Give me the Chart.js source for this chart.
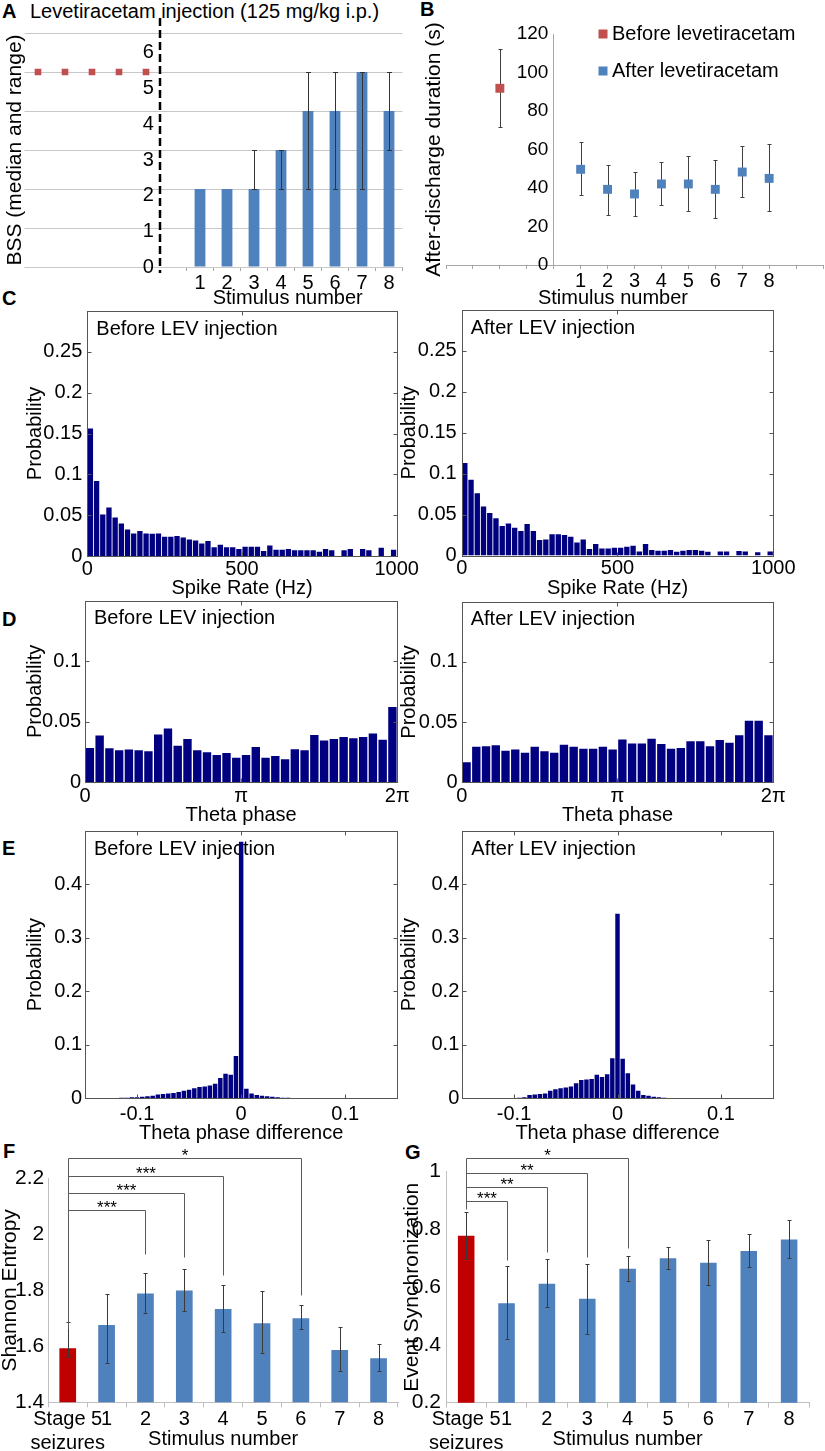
<!DOCTYPE html>
<html>
<head>
<meta charset="utf-8">
<title>Levetiracetam figure</title>
<script src="https://cdn.jsdelivr.net/npm/chart.js@4.4.1/dist/chart.umd.min.js"></script>
<style>
  html, body { margin:0; padding:0; background:#fff; }
  body { position:relative; width:825px; height:1451px; overflow:hidden; font-family:"Liberation Sans", Arial, sans-serif; }
  canvas { position:absolute; }
  .txt { position:absolute; white-space:nowrap; line-height:1; color:#000; font-family:"Liberation Sans", Arial, sans-serif; }
  .pl { font-weight:bold; font-size:20px; }
</style>
</head>
<body>
<div class="txt pl" style="left:2px;top:1px;">A</div>
<div class="txt" style="left:30px;top:1px;font-size:20px;">Levetiracetam injection (125 mg/kg i.p.)</div>
<div class="txt pl" style="left:420px;top:-1px;">B</div>
<div class="txt pl" style="left:2px;top:288px;">C</div>
<div class="txt pl" style="left:2px;top:609px;">D</div>
<div class="txt pl" style="left:2px;top:838px;">E</div>
<div class="txt pl" style="left:3px;top:1141px;">F</div>
<div class="txt pl" style="left:405px;top:1142px;">G</div>
<script>
// ---------------- DATA ----------------
// Panel A: behavioural seizure stage (median and range)
const aSlots = ['', '', '', '', '', '', '1', '2', '3', '4', '5', '6', '7', '8'];
const aBefore = [5, 5, 5, 5, 5];
const aMedian = [2, 2, 2, 3, 4, 4, 5, 4];
const aRangeLow = [2, 2, 2, 2, 2, 2, 2, 3];
const aRangeHigh = [2, 2, 3, 3, 5, 5, 5, 5];
const aYTicks = [0, 1, 2, 3, 4, 5, 6];

// Panel B: after-discharge duration
const bBeforeX = [-2];
const bBeforeMean = [91.8];
const bBeforeLow = [71.5];
const bBeforeHigh = [112.2];
const bStim = [1, 2, 3, 4, 5, 6, 7, 8];
const bAfterMean = [49.7, 39.3, 36.9, 42.1, 42.1, 39.3, 48.3, 45.0];
const bAfterLow = [36.5, 25.8, 25.3, 31.2, 28.1, 24.4, 35.2, 28.2];
const bAfterHigh = [64.1, 52.1, 48.1, 53.3, 56.8, 54.4, 62.0, 62.7];
const bXTicks = [-4, -3, -2, -1, 0, 1, 2, 3, 4, 5, 6, 7, 8, 9, 10];
const bYTicks = [0, 20, 40, 60, 80, 100, 120];

// Panel C: spike rate histograms
const cBins = [10, 30, 50, 70, 90, 110, 130, 150, 170, 190, 210, 230, 250, 270, 290, 310, 330, 350, 370, 390,
  410, 430, 450, 470, 490, 510, 530, 550, 570, 590, 610, 630, 650, 670, 690, 710, 730, 750, 770, 790,
  810, 830, 850, 870, 890, 910, 930, 950, 970, 990];
const cBefore = [0.156, 0.0919, 0.0508, 0.0593, 0.0472, 0.0398, 0.0325, 0.0276, 0.0305, 0.0276,
  0.0272, 0.0276, 0.0236, 0.0236, 0.0244, 0.0228, 0.0203, 0.0191, 0.0154, 0.0183,
  0.0106, 0.0138, 0.0106, 0.0106, 0.0085, 0.0114, 0.0114, 0.0114, 0.0061, 0.013,
  0.0077, 0.0077, 0.0085, 0.0069, 0.0069, 0.0069, 0.0069, 0.0053, 0.0085, 0.0069,
  0, 0.0069, 0.0085, 0, 0.0085, 0.0069, 0, 0.0102, 0, 0.0077];
const cAfter = [0.113, 0.0926, 0.076, 0.060, 0.052, 0.0455, 0.036, 0.039, 0.034, 0.030,
  0.0385, 0.030, 0.019, 0.0195, 0.026, 0.026, 0.025, 0.023, 0.016, 0.0197,
  0.0078, 0.014, 0.0086, 0.0086, 0.0094, 0.0094, 0.0107, 0.012, 0.005, 0.014,
  0.0066, 0.0057, 0.0057, 0.0066, 0.0045, 0.0057, 0.0066, 0.0066, 0.0057, 0.0045,
  0, 0.005, 0.005, 0, 0.0055, 0.005, 0, 0.004, 0, 0.005];
const cXTicks = [0, 500, 1000];
const cXTickLabels = ['0', '500', '1000'];
const cYTicks = [0, 0.05, 0.1, 0.15, 0.2, 0.25];
const cYTickLabels = ['0', '0.05', '0.1', '0.15', '0.2', '0.25'];

// Panel D: theta phase histograms
const dBins = [0.0982, 0.2945, 0.4909, 0.6872, 0.8836, 1.0799, 1.2763, 1.4726, 1.6690, 1.8653,
  2.0617, 2.2580, 2.4544, 2.6507, 2.8471, 3.0434, 3.2398, 3.4361, 3.6325, 3.8288,
  4.0252, 4.2215, 4.4179, 4.6142, 4.8106, 5.0069, 5.2033, 5.3996, 5.5960, 5.7923,
  5.9887, 6.1850];
const dBefore = [0.0281, 0.0385, 0.0279, 0.0262, 0.0268, 0.0262, 0.0254, 0.0393, 0.0443, 0.030,
  0.0355, 0.0262, 0.0246, 0.0224, 0.024, 0.020, 0.0224, 0.029, 0.020, 0.0216,
  0.0189, 0.027, 0.0262, 0.0388, 0.0344, 0.0355, 0.0372, 0.0361, 0.0372, 0.0402,
  0.035, 0.062];
const dAfter = [0.0166, 0.0296, 0.030, 0.0307, 0.0262, 0.0273, 0.0246, 0.0296, 0.0257, 0.0246,
  0.0312, 0.0296, 0.0279, 0.0279, 0.0296, 0.0273, 0.0356, 0.0323, 0.0323, 0.0362,
  0.0318, 0.0279, 0.0285, 0.034, 0.034, 0.030, 0.0351, 0.0329, 0.039, 0.0511,
  0.0511, 0.039];
const dXTicks = [0, Math.PI, 2 * Math.PI];
const dXTickLabels = ['0', 'π', '2π'];
const dYTicks = [0, 0.05, 0.1];
const dYTickLabels = ['0', '0.05', '0.1'];

// Panel E: theta phase difference histograms
const eBins = [-0.115, -0.11, -0.105, -0.1, -0.095, -0.09, -0.085, -0.08, -0.075, -0.07, -0.065,
  -0.06, -0.055, -0.05, -0.045, -0.04, -0.035, -0.03, -0.025, -0.02, -0.015, -0.01, -0.005,
  0, 0.005, 0.01, 0.015, 0.02, 0.025, 0.03, 0.035, 0.04, 0.045];
const eBefore = [0.001, 0.001, 0.002, 0.002, 0.003, 0.004, 0.005, 0.007, 0.008, 0.009, 0.010,
  0.012, 0.014, 0.016, 0.019, 0.021, 0.022, 0.024, 0.027, 0.038, 0.046, 0.044, 0.079,
  0.480, 0.018, 0.009, 0.006, 0.005, 0.004, 0.003, 0.002, 0.001, 0.001];
const eAfter = [0, 0, 0, 0, 0.001, 0.002, 0.006, 0.007, 0.008, 0.009, 0.014,
  0.017, 0.019, 0.020, 0.022, 0.028, 0.034, 0.035, 0.036, 0.044, 0.040, 0.045, 0.075,
  0.345, 0.074, 0.047, 0.026, 0.014, 0.006, 0.005, 0.003, 0.002, 0.001];
const eXTicks = [-0.1, 0, 0.1];
const eXTickLabels = ['-0.1', '0', '0.1'];
const eYTicks = [0, 0.1, 0.2, 0.3, 0.4];
const eYTickLabels = ['0', '0.1', '0.2', '0.3', '0.4'];

// Panel F: Shannon entropy
const fgCategories = [['Stage 5', 'seizures'], '1', '2', '3', '4', '5', '6', '7', '8'];
const fMean = [1.593, 1.676, 1.789, 1.799, 1.733, 1.682, 1.700, 1.587, 1.557];
const fLow = [1.561, 1.539, 1.718, 1.727, 1.652, 1.575, 1.660, 1.510, 1.513];
const fHigh = [1.688, 1.786, 1.863, 1.875, 1.819, 1.798, 1.746, 1.669, 1.607];
const fYTicks = [1.4, 1.6, 1.8, 2.0, 2.2];
const fYTickLabels = ['1.4', '1.6', '1.8', '2', '2.2'];
const fSigTargets = [2, 3, 4, 6];
const fSigLevels = [2.086, 2.146, 2.208, 2.274];
const fSigEnds = [1.93, 1.92, 1.855, 1.783];
const fSigStars = ['***', '***', '***', '*'];
const fSigBaseEnd = 1.66;

// Panel G: event synchronization
const gMean = [0.778, 0.544, 0.612, 0.560, 0.664, 0.700, 0.685, 0.725, 0.765];
const gLow = [0.697, 0.419, 0.532, 0.438, 0.622, 0.664, 0.609, 0.669, 0.702];
const gHigh = [0.859, 0.672, 0.696, 0.682, 0.709, 0.740, 0.764, 0.785, 0.831];
const gYTicks = [0.2, 0.4, 0.6, 0.8, 1.0];
const gYTickLabels = ['0.2', '0.4', '0.6', '0.8', '1'];
const gSigTargets = [1, 2, 3, 4];
const gSigLevels = [0.897, 0.946, 0.994, 1.048];
const gSigEnds = [0.694, 0.722, 0.705, 0.737];
const gSigStars = ['***', '**', '**', '*'];
const gSigBaseEnd = 0.87;

// ---------------- SETUP ----------------
const FONT = '"Liberation Sans", Arial, sans-serif';
Chart.defaults.font.family = FONT;
Chart.defaults.color = '#000';
Chart.defaults.animation = false;
Chart.defaults.responsive = false;
Chart.defaults.maintainAspectRatio = false;
Chart.defaults.plugins.legend.display = false;
Chart.defaults.plugins.tooltip.enabled = false;

const BLUE = '#4f81bd', RED_SQ = '#c0504d', RED_BAR = '#c00000', NAVY = '#000080';

function mount(box) {
  const c = document.createElement('canvas');
  c.width = box.w; c.height = box.h;
  c.style.left = box.l + 'px'; c.style.top = box.t + 'px';
  c.style.width = box.w + 'px'; c.style.height = box.h + 'px';
  document.body.appendChild(c);
  return c;
}
function pad(box, area) { return { left: 0, top: area.t - box.t, right: box.l + box.w - area.r, bottom: 0 }; }
const fixW = w => s => { s.width = w; s.paddingTop = 0; s.paddingBottom = 0; };
const fixH = h => s => { s.height = h; s.paddingLeft = 0; s.paddingRight = 0; };
const zeroPad = s => { s.paddingTop = 0; s.paddingBottom = 0; s.paddingLeft = 0; s.paddingRight = 0; };
const setTicks = list => s => { s.ticks = list.map(v => ({ value: v })); };
// a trailing space keeps right-aligned labels clear of an axis placed inside the plot
const gapLabel = v => String(v) + ' ';

// ---------------- PLUGINS ----------------
function drawErr(chart, behind) {
  const ctx = chart.ctx;
  chart.data.datasets.forEach((ds, di) => {
    if (!ds.errLow || !!ds.errBehind !== behind) return;
    const meta = chart.getDatasetMeta(di);
    const ys = chart.scales[meta.yAxisID];
    ctx.save();
    ctx.strokeStyle = ds.errColor || '#404040';
    ctx.lineWidth = 1;
    ctx.beginPath();
    meta.data.forEach((el, j) => {
      const lo = ds.errLow[j], hi = ds.errHigh[j];
      if (lo == null || hi == null || lo === hi) return;
      const x = Math.round(el.x) + 0.5;
      const y1 = Math.round(ys.getPixelForValue(lo)) + 0.5;
      const y2 = Math.round(ys.getPixelForValue(hi)) + 0.5;
      const c = ds.errCap || 2.5;
      ctx.moveTo(x, y1); ctx.lineTo(x, y2);
      ctx.moveTo(x - c, y1); ctx.lineTo(x + c, y1);
      ctx.moveTo(x - c, y2); ctx.lineTo(x + c, y2);
    });
    ctx.stroke();
    ctx.restore();
  });
}
const errorBars = { id: 'errorBars', beforeDatasetsDraw: c => drawErr(c, true), afterDatasetsDraw: c => drawErr(c, false) };

const sepLinePlugin = {
  id: 'sepLine',
  afterDatasetsDraw(chart, args, o) {
    const x = Math.round(chart.scales.x.getPixelForValue(o.at));
    const a = chart.chartArea, ctx = chart.ctx;
    ctx.save();
    ctx.strokeStyle = '#000'; ctx.lineWidth = 2.5; ctx.setLineDash([8, 4]);
    ctx.beginPath(); ctx.moveTo(x, a.top - o.above); ctx.lineTo(x, a.bottom + o.below); ctx.stroke();
    ctx.restore();
  }
};

const captionPlugin = {
  id: 'caption',
  afterDraw(chart, args, o) {
    if (!o.text) return;
    const ctx = chart.ctx;
    ctx.save();
    ctx.font = '20px ' + FONT; ctx.fillStyle = '#000'; ctx.textAlign = 'center'; ctx.textBaseline = 'middle';
    ctx.fillText(o.text, chart.scales.x.getPixelForValue(o.at), chart.chartArea.bottom + o.dy);
    ctx.restore();
  }
};

const insetLegend = {
  id: 'insetLegend',
  afterDraw(chart, args, o) {
    const ctx = chart.ctx, a = chart.chartArea;
    ctx.save();
    ctx.font = '20px ' + FONT; ctx.textBaseline = 'middle'; ctx.textAlign = 'left';
    chart.data.datasets.forEach((ds, i) => {
      const cy = a.top + o.firstRow + i * o.rowGap;
      ctx.fillStyle = ds.backgroundColor;
      ctx.fillRect(a.left + o.markerX - 4.5, cy - 4.5, 9, 9);
      ctx.fillStyle = '#000';
      ctx.fillText(ds.label, a.left + o.textX, cy);
    });
    ctx.restore();
  }
};

const matlabBox = {
  id: 'mbox',
  beforeDatasetsDraw(chart, args, o) {
    const ctx = chart.ctx, a = chart.chartArea;
    ctx.save();
    ctx.font = '20px ' + FONT; ctx.fillStyle = '#000'; ctx.textBaseline = 'middle'; ctx.textAlign = 'left';
    ctx.fillText(o.inset, a.left + 9, a.top + 18);
    ctx.restore();
  },
  afterDraw(chart) {
    const ctx = chart.ctx, a = chart.chartArea, xs = chart.scales.x, ys = chart.scales.y;
    const L = Math.round(a.left) + 0.5, R = Math.round(a.right) + 0.5, T = Math.round(a.top) + 0.5, B = Math.round(a.bottom) + 0.5;
    ctx.save();
    ctx.strokeStyle = '#555'; ctx.lineWidth = 1;
    ctx.strokeRect(L, T, R - L, B - T);
    const tl = 4;
    ctx.beginPath();
    ys.ticks.forEach(t => {
      const y = Math.round(ys.getPixelForValue(t.value)) + 0.5;
      ctx.moveTo(L, y); ctx.lineTo(L + tl, y); ctx.moveTo(R, y); ctx.lineTo(R - tl, y);
    });
    xs.ticks.forEach(t => {
      const x = Math.round(xs.getPixelForValue(t.value)) + 0.5;
      ctx.moveTo(x, B); ctx.lineTo(x, B - tl); ctx.moveTo(x, T); ctx.lineTo(x, T + tl);
    });
    ctx.stroke();
    ctx.restore();
  }
};

const sigPlugin = {
  id: 'sig',
  afterDatasetsDraw(chart, args, o) {
    if (!o.targets) return;
    const ctx = chart.ctx, xs = chart.scales.x, ys = chart.scales.y;
    const px = v => Math.round(xs.getPixelForValue(v)) + 0.5;
    const py = v => Math.round(ys.getPixelForValue(v)) + 0.5;
    const x0 = px(o.from);
    ctx.save();
    ctx.strokeStyle = '#5a5a5a'; ctx.lineWidth = 1;
    ctx.beginPath();
    ctx.moveTo(x0, py(Math.max(...o.levels))); ctx.lineTo(x0, py(o.fromEnd));
    o.targets.forEach((t, i) => {
      const y = py(o.levels[i]), x1 = px(t);
      ctx.moveTo(x0, y); ctx.lineTo(x1, y); ctx.lineTo(x1, py(o.ends[i]));
    });
    ctx.stroke();
    ctx.fillStyle = '#000'; ctx.font = '17px ' + FONT; ctx.textAlign = 'center'; ctx.textBaseline = 'alphabetic';
    o.targets.forEach((t, i) => ctx.fillText(o.stars[i], (x0 + px(t)) / 2, py(o.levels[i]) + 2));
    ctx.restore();
  }
};

// ---------------- PANEL A ----------------
(function () {
  const box = { l: 0, t: 0, w: 412, h: 312 };
  const area = { l: 24.5, t: 33, r: 402.5, b: 267 };
  const nGap = aSlots.length - aMedian.length;
  const sep = aBefore.length - 0.5;
  const labelAxisMax = 6.56; // the printed tick numbers sit on a slightly compressed scale in the original
  const beforeData = aSlots.map((_, i) => i < aBefore.length ? aBefore[i] : null);
  const afterData = aSlots.map((_, i) => i >= nGap ? aMedian[i - nGap] : null);
  const lowData = aSlots.map((_, i) => i >= nGap ? aRangeLow[i - nGap] : null);
  const highData = aSlots.map((_, i) => i >= nGap ? aRangeHigh[i - nGap] : null);
  new Chart(mount(box), {
    type: 'bar',
    data: {
      labels: aSlots,
      datasets: [
        { type: 'bar', label: 'After levetiracetam', data: afterData, yAxisID: 'y', xAxisID: 'x',
          backgroundColor: BLUE, barPercentage: 0.4, categoryPercentage: 1,
          errLow: lowData, errHigh: highData, errColor: '#333', errCap: 2.5 },
        { type: 'line', label: 'Before levetiracetam', data: beforeData, yAxisID: 'y', xAxisID: 'x',
          showLine: false, pointStyle: 'rect', pointRadius: 4.7, pointBackgroundColor: RED_SQ,
          pointBorderColor: RED_SQ, pointBorderWidth: 0, backgroundColor: RED_SQ, borderColor: RED_SQ }
      ]
    },
    options: {
      layout: { autoPadding: false, padding: pad(box, area) },
      scales: {
        x: {
          grid: { display: true, drawOnChartArea: false, drawTicks: true, tickLength: 4, offset: true,
            color: c => (c.index === undefined || c.index >= nGap) ? '#a6a6a6' : 'rgba(0,0,0,0)' },
          border: { display: false },
          ticks: { autoSkip: false, maxRotation: 0, padding: 0, font: { size: 20 }, color: '#000' },
          afterFit: fixH(box.t + box.h - area.b)
        },
        y: {
          position: { x: sep }, min: 0, max: 6,
          afterBuildTicks: setTicks(aYTicks),
          grid: { color: '#c8c8c8', drawTicks: false },
          border: { display: false },
          ticks: { display: false },
          afterFit: zeroPad
        },
        yl: {
          type: 'linear', position: { x: sep }, min: 0, max: labelAxisMax,
          afterBuildTicks: setTicks(aYTicks),
          grid: { display: false, drawTicks: false },
          border: { display: false },
          ticks: { font: { size: 20 }, color: '#000', callback: gapLabel },
          afterFit: zeroPad
        },
        yt: {
          type: 'linear', position: 'left',
          grid: { display: false }, border: { display: false }, ticks: { display: false },
          title: { display: true, text: 'BSS (median and range)', font: { size: 21 }, color: '#000', padding: { top: 3, bottom: 0 } },
          afterFit: fixW(area.l - box.l)
        }
      },
      plugins: {
        sepLine: { at: sep, above: 15, below: 6 },
        caption: { text: 'Stimulus number', at: 9.25, dy: 31 }
      }
    },
    plugins: [errorBars, sepLinePlugin, captionPlugin]
  });
})();

// ---------------- PANEL B ----------------
(function () {
  const box = { l: 412, t: 0, w: 413, h: 312 };
  const area = { l: 446, t: 34, r: 823, b: 265 };
  new Chart(mount(box), {
    type: 'scatter',
    data: {
      datasets: [
        { label: 'Before levetiracetam', data: bBeforeX.map((x, i) => ({ x: x, y: bBeforeMean[i] })),
          yAxisID: 'y', xAxisID: 'x', errLow: bBeforeLow, errHigh: bBeforeHigh, errBehind: true, errCap: 2,
          pointStyle: 'rect', pointRadius: 6.3, backgroundColor: RED_SQ, borderColor: RED_SQ, borderWidth: 0 },
        { label: 'After levetiracetam', data: bStim.map((x, i) => ({ x: x, y: bAfterMean[i] })),
          yAxisID: 'y', xAxisID: 'x', errLow: bAfterLow, errHigh: bAfterHigh, errBehind: true, errCap: 2,
          pointStyle: 'rect', pointRadius: 6.3, backgroundColor: BLUE, borderColor: BLUE, borderWidth: 0 }
      ]
    },
    options: {
      layout: { autoPadding: false, padding: pad(box, area) },
      scales: {
        x: {
          type: 'linear', min: bXTicks[0], max: bXTicks[bXTicks.length - 1],
          afterBuildTicks: setTicks(bXTicks),
          grid: { display: true, drawOnChartArea: false, drawTicks: true, tickLength: 4, color: '#a6a6a6' },
          border: { display: true, color: '#a6a6a6' },
          ticks: { autoSkip: false, maxRotation: 0, padding: 0, font: { size: 20 }, color: '#000',
            callback: v => bStim.includes(v) ? String(v) : '' },
          afterFit: fixH(box.t + box.h - area.b)
        },
        y: {
          position: { x: 0 }, min: 0, max: 120,
          afterBuildTicks: setTicks(bYTicks),
          grid: { display: false, drawTicks: false },
          border: { display: true, color: '#a6a6a6' },
          ticks: { font: { size: 19 }, color: '#000', callback: gapLabel },
          afterFit: zeroPad
        },
        yt: {
          type: 'linear', position: 'left',
          grid: { display: false }, border: { display: false }, ticks: { display: false },
          title: { display: true, text: 'After-discharge duration (s)', font: { size: 21 }, color: '#000', padding: { top: 10, bottom: 0 } },
          afterFit: fixW(area.l - box.l)
        }
      },
      plugins: {
        caption: { text: 'Stimulus number', at: 2.2, dy: 33 },
        insetLegend: { firstRow: 0, rowGap: 37, markerX: 157, textX: 166 }
      }
    },
    plugins: [errorBars, captionPlugin, insetLegend]
  });
})();

// ---------------- MATLAB-style histograms (C, D, E) ----------------
function histChart(box, area, spec) {
  const pts = spec.bins.map((b, i) => ({ x: b, y: spec.values[i] }));
  return new Chart(mount(box), {
    type: 'bar',
    data: { datasets: [{ data: pts, backgroundColor: NAVY, borderWidth: 0, categoryPercentage: 0.86, barPercentage: 1 }] },
    options: {
      layout: { autoPadding: false, padding: pad(box, area) },
      scales: {
        x: {
          type: 'linear', min: spec.xMin, max: spec.xMax, offset: false,
          grid: { display: false, drawTicks: false, offset: false }, border: { display: false },
          afterBuildTicks: setTicks(spec.xTicks),
          ticks: { autoSkip: false, maxRotation: 0, padding: spec.xPad, font: { size: 20 }, color: '#000',
            callback: (v, i) => spec.xTickLabels[i] },
          title: { display: true, text: spec.xTitle, font: { size: 20 }, color: '#000', padding: 0 },
          afterFit: fixH(box.t + box.h - area.b)
        },
        y: {
          min: 0, max: spec.yMax,
          grid: { display: false, drawTicks: false }, border: { display: false },
          afterBuildTicks: setTicks(spec.yTicks),
          ticks: { padding: spec.yPad, font: { size: 20 }, color: '#000', callback: (v, i) => spec.yTickLabels[i] },
          title: { display: true, text: 'Probability', font: { size: 20 }, color: '#000', padding: { top: spec.yTitlePad, bottom: 0 } },
          afterFit: fixW(area.l - box.l)
        }
      },
      plugins: { mbox: { inset: spec.inset } }
    },
    plugins: [matlabBox]
  });
}

const cCommon = { bins: cBins, xMin: 0, xMax: 1000, xTicks: cXTicks, xTickLabels: cXTickLabels, xPad: 1,
  xTitle: 'Spike Rate (Hz)', yMax: 0.3, yTicks: cYTicks, yTickLabels: cYTickLabels, yPad: 5 };
histChart({ l: 0, t: 300, w: 425, h: 300 }, { l: 87.3, t: 311, r: 396.7, b: 556 },
  Object.assign({}, cCommon, { values: cBefore, inset: 'Before LEV injection', yTitlePad: 23 }));
histChart({ l: 395, t: 300, w: 430, h: 300 }, { l: 461.7, t: 310, r: 773.3, b: 555.5 },
  Object.assign({}, cCommon, { values: cAfter, inset: 'After LEV injection', yTitlePad: 2 }));

const dCommon = { bins: dBins, xMin: 0, xMax: 2 * Math.PI, xTicks: dXTicks, xTickLabels: dXTickLabels, xPad: 2,
  xTitle: 'Theta phase', yMax: 0.15, yTicks: dYTicks, yTickLabels: dYTickLabels, yPad: 4 };
histChart({ l: 0, t: 590, w: 425, h: 237 }, { l: 85, t: 600.7, r: 397.3, b: 782 },
  Object.assign({}, dCommon, { values: dBefore, inset: 'Before LEV injection', yTitlePad: 23 }));
histChart({ l: 395, t: 590, w: 430, h: 237 }, { l: 461.7, t: 601.7, r: 773.3, b: 782.3 },
  Object.assign({}, dCommon, { values: dAfter, inset: 'After LEV injection', yTitlePad: 2 }));

const eCommon = { bins: eBins, xMin: -0.15, xMax: 0.15, xTicks: eXTicks, xTickLabels: eXTickLabels, xPad: 4,
  xTitle: 'Theta phase difference', yMax: 0.5, yTicks: eYTicks, yTickLabels: eYTickLabels, yPad: 3 };
histChart({ l: 0, t: 822, w: 425, h: 323 }, { l: 85, t: 831, r: 397.3, b: 1098.3 },
  Object.assign({}, eCommon, { values: eBefore, inset: 'Before LEV injection', yTitlePad: 23 }));
histChart({ l: 395, t: 822, w: 430, h: 323 }, { l: 462.3, t: 831, r: 772.7, b: 1098.3 },
  Object.assign({}, eCommon, { values: eAfter, inset: 'After LEV injection', yTitlePad: 2 }));

// ---------------- Excel-style bar charts (F, G) ----------------
function excelBar(box, area, spec) {
  return new Chart(mount(box), {
    type: 'bar',
    data: {
      labels: fgCategories,
      datasets: [{
        data: spec.mean, backgroundColor: spec.mean.map((_, i) => i === 0 ? RED_BAR : BLUE),
        borderWidth: 0, barPercentage: spec.barPct, categoryPercentage: 1,
        errLow: spec.low, errHigh: spec.high, errColor: '#3a3a3a', errCap: 2
      }]
    },
    options: {
      layout: { autoPadding: false, padding: pad(box, area) },
      scales: {
        x: {
          grid: { display: true, drawOnChartArea: false, drawTicks: true, tickLength: 5, color: '#bfbfbf', offset: true },
          border: { display: true, color: '#bfbfbf' },
          ticks: { autoSkip: false, maxRotation: 0, padding: 0, font: { size: 20 }, color: '#000' },
          title: { display: true, text: 'Stimulus number', font: { size: 20 }, color: '#000', padding: 0 },
          afterFit: fixH(box.t + box.h - area.b)
        },
        y: {
          min: spec.yTicks[0], max: spec.yTicks[spec.yTicks.length - 1],
          afterBuildTicks: setTicks(spec.yTicks),
          grid: { display: false, drawTicks: false },
          border: { display: true, color: '#bfbfbf' },
          ticks: { font: { size: 21 }, color: '#000', padding: spec.yPad, callback: (v, i) => spec.yTickLabels[i] },
          title: { display: true, text: spec.yTitle, font: { size: 21 }, color: '#000', padding: { top: spec.yTitlePad, bottom: 0 } },
          afterFit: fixW(area.l - box.l)
        }
      },
      plugins: { sig: spec.sig }
    },
    plugins: [errorBars, sigPlugin]
  });
}

excelBar({ l: 0, t: 1140, w: 405, h: 311 }, { l: 48.3, t: 1178.3, r: 398, b: 1402.3 }, {
  mean: fMean, low: fLow, high: fHigh, barPct: 0.43, yTicks: fYTicks, yTickLabels: fYTickLabels, yPad: 4,
  yTitle: 'Shannon Entropy', yTitlePad: -2,
  sig: { from: 0, fromEnd: fSigBaseEnd, targets: fSigTargets, levels: fSigLevels, ends: fSigEnds, stars: fSigStars }
});
excelBar({ l: 400, t: 1140, w: 425, h: 311 }, { l: 446, t: 1171.7, r: 809.3, b: 1402.7 }, {
  mean: gMean, low: gLow, high: gHigh, barPct: 0.41, yTicks: gYTicks, yTickLabels: gYTickLabels, yPad: 5,
  yTitle: 'Event Synchronization', yTitlePad: 0,
  sig: { from: 0, fromEnd: gSigBaseEnd, targets: gSigTargets, levels: gSigLevels, ends: gSigEnds, stars: gSigStars }
});
</script>
</body>
</html>
